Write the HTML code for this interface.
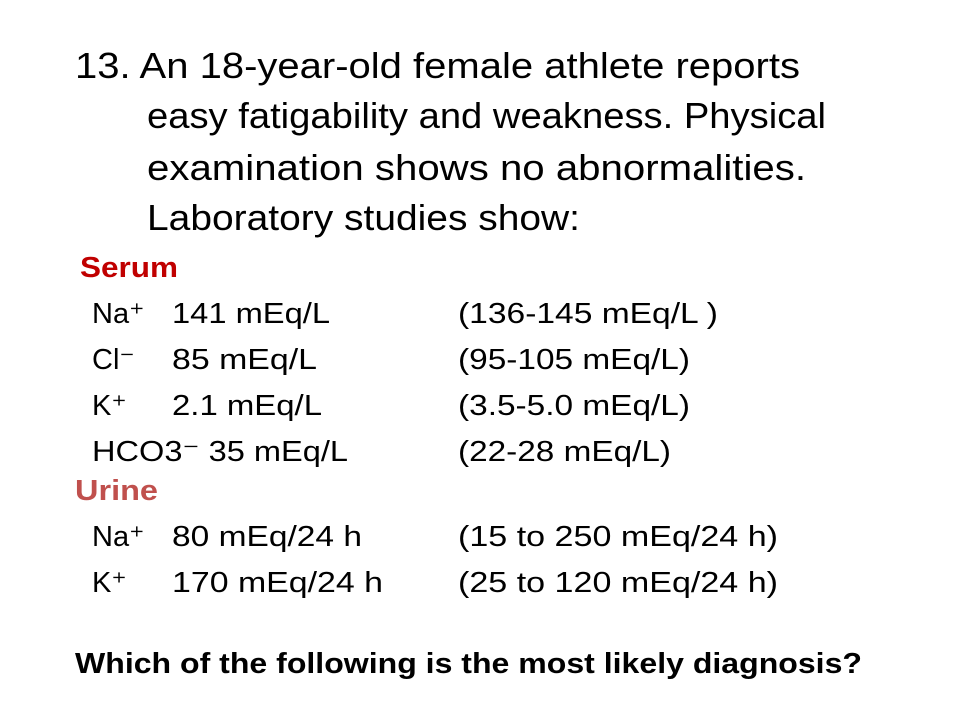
<!DOCTYPE html>
<html><head><meta charset="utf-8"><style>
html,body{margin:0;padding:0;background:#fff;}
svg{display:block;}
text{font-family:"Liberation Sans",Arial,sans-serif;fill:#000;}
.t{font-size:36px;}
.b{font-size:29px;}
</style></head><body>
<svg width="960" height="720" viewBox="0 0 960 720">
<rect width="960" height="720" fill="#fff"/>
<g>
<text class="t" x="75" y="78" textLength="725" lengthAdjust="spacingAndGlyphs">13.  An 18-year-old female athlete reports</text>
<text class="t" x="147" y="128" textLength="679" lengthAdjust="spacingAndGlyphs">easy fatigability and weakness. Physical</text>
<text class="t" x="147" y="180" textLength="659" lengthAdjust="spacingAndGlyphs">examination shows no abnormalities.</text>
<text class="t" x="147" y="230" textLength="433" lengthAdjust="spacingAndGlyphs">Laboratory studies show:</text>
</g>
<text class="b" x="80" y="277" font-weight="bold" style="fill:#C00000" textLength="98" lengthAdjust="spacingAndGlyphs">Serum</text>
<g>
<text class="b" x="92" y="323">Na⁺</text>
<text class="b" x="172" y="323" textLength="158" lengthAdjust="spacingAndGlyphs">141 mEq/L</text>
<text class="b" x="458" y="323" textLength="260" lengthAdjust="spacingAndGlyphs">(136-145 mEq/L )</text>
<text class="b" x="92" y="369">Cl⁻</text>
<text class="b" x="172" y="369" textLength="145" lengthAdjust="spacingAndGlyphs">85 mEq/L</text>
<text class="b" x="458" y="369" textLength="232" lengthAdjust="spacingAndGlyphs">(95-105 mEq/L)</text>
<text class="b" x="92" y="415">K⁺</text>
<text class="b" x="172" y="415" textLength="150" lengthAdjust="spacingAndGlyphs">2.1 mEq/L</text>
<text class="b" x="458" y="415" textLength="232" lengthAdjust="spacingAndGlyphs">(3.5-5.0 mEq/L)</text>
<text class="b" x="92" y="461" textLength="256" lengthAdjust="spacingAndGlyphs">HCO3⁻  35 mEq/L</text>
<text class="b" x="458" y="461" textLength="213" lengthAdjust="spacingAndGlyphs">(22-28 mEq/L)</text>
</g>
<text class="b" x="75" y="500" font-weight="bold" style="fill:#C0504D" textLength="83" lengthAdjust="spacingAndGlyphs">Urine</text>
<g>
<text class="b" x="92" y="546">Na⁺</text>
<text class="b" x="172" y="546" textLength="190" lengthAdjust="spacingAndGlyphs">80 mEq/24 h</text>
<text class="b" x="458" y="546" textLength="320" lengthAdjust="spacingAndGlyphs">(15 to 250 mEq/24 h)</text>
<text class="b" x="92" y="592">K⁺</text>
<text class="b" x="172" y="592" textLength="211" lengthAdjust="spacingAndGlyphs">170 mEq/24 h</text>
<text class="b" x="458" y="592" textLength="320" lengthAdjust="spacingAndGlyphs">(25 to 120 mEq/24 h)</text>
</g>
<text class="b" x="75" y="673" font-weight="bold" textLength="787" lengthAdjust="spacingAndGlyphs">Which of the following is the most likely diagnosis?</text>
</svg>
</body></html>
